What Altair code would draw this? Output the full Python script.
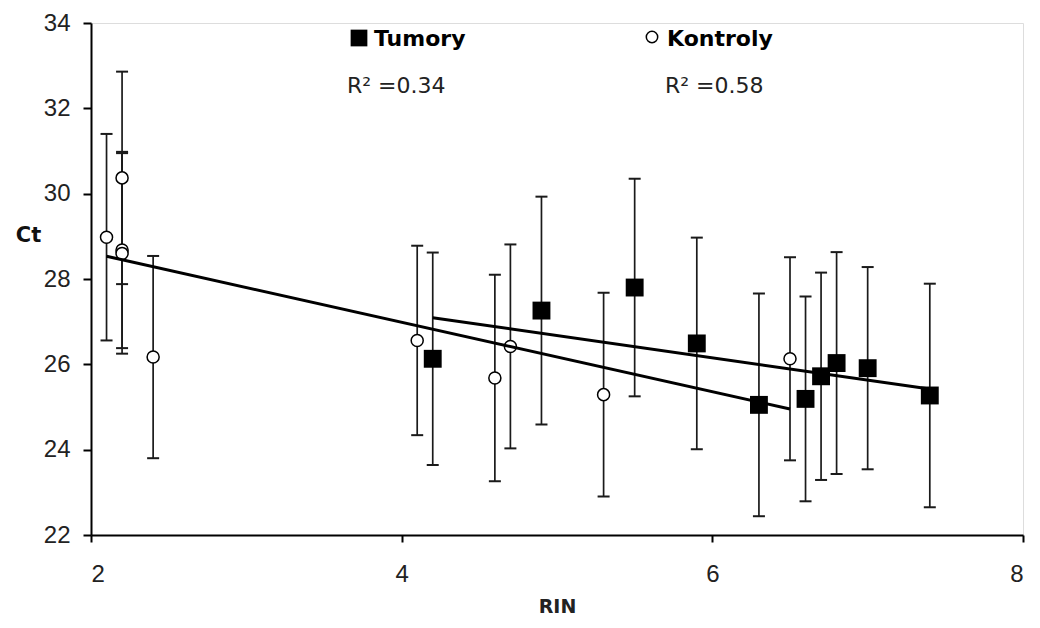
import altair as alt
import pandas as pd

# Tumory (filled squares)
tum_rin = [4.2, 4.9, 5.5, 5.9, 6.3, 6.6, 6.7, 6.8, 7.0, 7.4]
tum_ct = [26.13, 27.26, 27.8, 26.49, 25.05, 25.19, 25.72, 26.03, 25.91, 25.27]
tum_err = [2.49, 2.67, 2.55, 2.48, 2.61, 2.4, 2.43, 2.6, 2.37, 2.62]

# Kontroly (open circles)
kon_rin = [2.1, 2.2, 2.2, 2.2, 2.4, 4.1, 4.6, 4.7, 5.3, 6.5]
kon_ct = [28.98, 30.37, 28.68, 28.6, 26.17, 26.56, 25.68, 26.42, 25.29, 26.13]
kon_err = [2.42, 2.49, 2.3, 2.35, 2.37, 2.22, 2.42, 2.39, 2.39, 2.38]

series_names = ["Tumory", "Kontroly"]
r2_labels = ["R\u00b2 =0.34", "R\u00b2 =0.58"]
x_ticks = [2, 4, 6, 8]
y_ticks = [22, 24, 26, 28, 30, 32, 34]

df = pd.DataFrame({
    "RIN": tum_rin + kon_rin,
    "Ct": tum_ct + kon_ct,
    "err": tum_err + kon_err,
    "series": [series_names[0]] * len(tum_rin) + [series_names[1]] * len(kon_rin),
})

x_scale = alt.Scale(domain=[2, 8], nice=False, zero=False)
y_scale = alt.Scale(domain=[22, 34], nice=False, zero=False)

x_axis = alt.Axis(
    values=x_ticks, title="RIN", grid=False,
    domainColor="black", domainWidth=2, tickColor="black", tickWidth=2, tickSize=7,
    labelFont="Liberation Sans", labelFontSize=24, labelColor="#222222", labelPadding=20,
    titleFont="DejaVu Sans", titleFontSize=19, titleFontWeight="bold", titleColor="#222222",
    titleY=77, titleBaseline="alphabetic",
)
y_axis = alt.Axis(
    values=y_ticks, title="Ct", grid=False,
    domainColor="black", domainWidth=2, tickColor="black", tickWidth=2, tickSize=8,
    labelFont="Liberation Sans", labelFontSize=24, labelColor="#222222", labelPadding=13,
    titleFont="DejaVu Sans", titleFontSize=21, titleFontWeight="bold", titleColor="#111111",
    titleAngle=0, titleX=-63, titleY=212, titleAlign="center", titleBaseline="middle",
)

def X(field="RIN"):
    return alt.X(f"{field}:Q", scale=x_scale, axis=x_axis)

def Y(field):
    return alt.Y(f"{field}:Q", scale=y_scale, axis=y_axis)

base = alt.Chart(df).transform_calculate(
    lo="datum.Ct - datum.err", hi="datum.Ct + datum.err"
)

err_rules = base.mark_rule(color="#1a1a1a", strokeWidth=1.7).encode(
    x=X(), y=Y("lo"), y2="hi:Q"
)
cap_lo = base.mark_tick(orient="horizontal", size=12, thickness=2, color="#1a1a1a", opacity=1).encode(
    x=X(), y=Y("lo")
)
cap_hi = base.mark_tick(orient="horizontal", size=12, thickness=2, color="#1a1a1a", opacity=1).encode(
    x=X(), y=Y("hi")
)

circles = base.transform_filter(alt.datum.series == "Kontroly").mark_point(
    shape="circle", filled=True, fill="white", stroke="black", strokeWidth=1.5, size=145, opacity=1
).encode(x=X(), y=Y("Ct"))

trend = alt.Chart(df).transform_regression(
    "RIN", "Ct", groupby=["series"]
).mark_line(color="black", strokeWidth=3).encode(
    x=X(), y=Y("Ct"), detail="series:N"
)

squares = base.transform_filter(alt.datum.series == "Tumory").mark_square(
    color="black", size=320, opacity=1
).encode(x=X(), y=Y("Ct"))

# Legend-like annotations
leg_df = pd.DataFrame({"name": series_names, "r2": r2_labels})

leg_sq = alt.Chart(leg_df).transform_filter(alt.datum.name == "Tumory").mark_square(
    color="black", size=280, opacity=1
).encode(x=alt.value(268), y=alt.value(15))
leg_circ = alt.Chart(leg_df).transform_filter(alt.datum.name == "Kontroly").mark_point(
    shape="circle", filled=True, fill="white", stroke="black", strokeWidth=1.5, size=130, opacity=1
).encode(x=alt.value(561), y=alt.value(14))

leg_text_style = dict(font="DejaVu Sans", fontSize=22, fontWeight="bold", color="black",
                      align="left", baseline="alphabetic")
leg_t1 = alt.Chart(leg_df).transform_filter(alt.datum.name == "Tumory").mark_text(**leg_text_style).encode(
    x=alt.value(283), y=alt.value(23), text="name:N")
leg_t2 = alt.Chart(leg_df).transform_filter(alt.datum.name == "Kontroly").mark_text(**leg_text_style).encode(
    x=alt.value(576), y=alt.value(23), text="name:N")

r2_style = dict(font="DejaVu Sans", fontSize=22, color="#222222", align="left", baseline="alphabetic")
r2_t1 = alt.Chart(leg_df).transform_filter(alt.datum.name == "Tumory").mark_text(**r2_style).encode(
    x=alt.value(256), y=alt.value(70), text="r2:N")
r2_t2 = alt.Chart(leg_df).transform_filter(alt.datum.name == "Kontroly").mark_text(**r2_style).encode(
    x=alt.value(574), y=alt.value(70), text="r2:N")

chart = alt.layer(
    err_rules, cap_lo, cap_hi, circles, trend, squares,
    leg_sq, leg_circ, leg_t1, leg_t2, r2_t1, r2_t2,
).properties(
    width=932, height=512,
    autosize=alt.AutoSizeParams(type="none"),
    padding={"left": 83, "top": 15, "right": 9, "bottom": 80},
).configure_view(stroke=None).configure(background="white")

chart.save("out.html", embed_options={"renderer": "svg", "actions": False})
